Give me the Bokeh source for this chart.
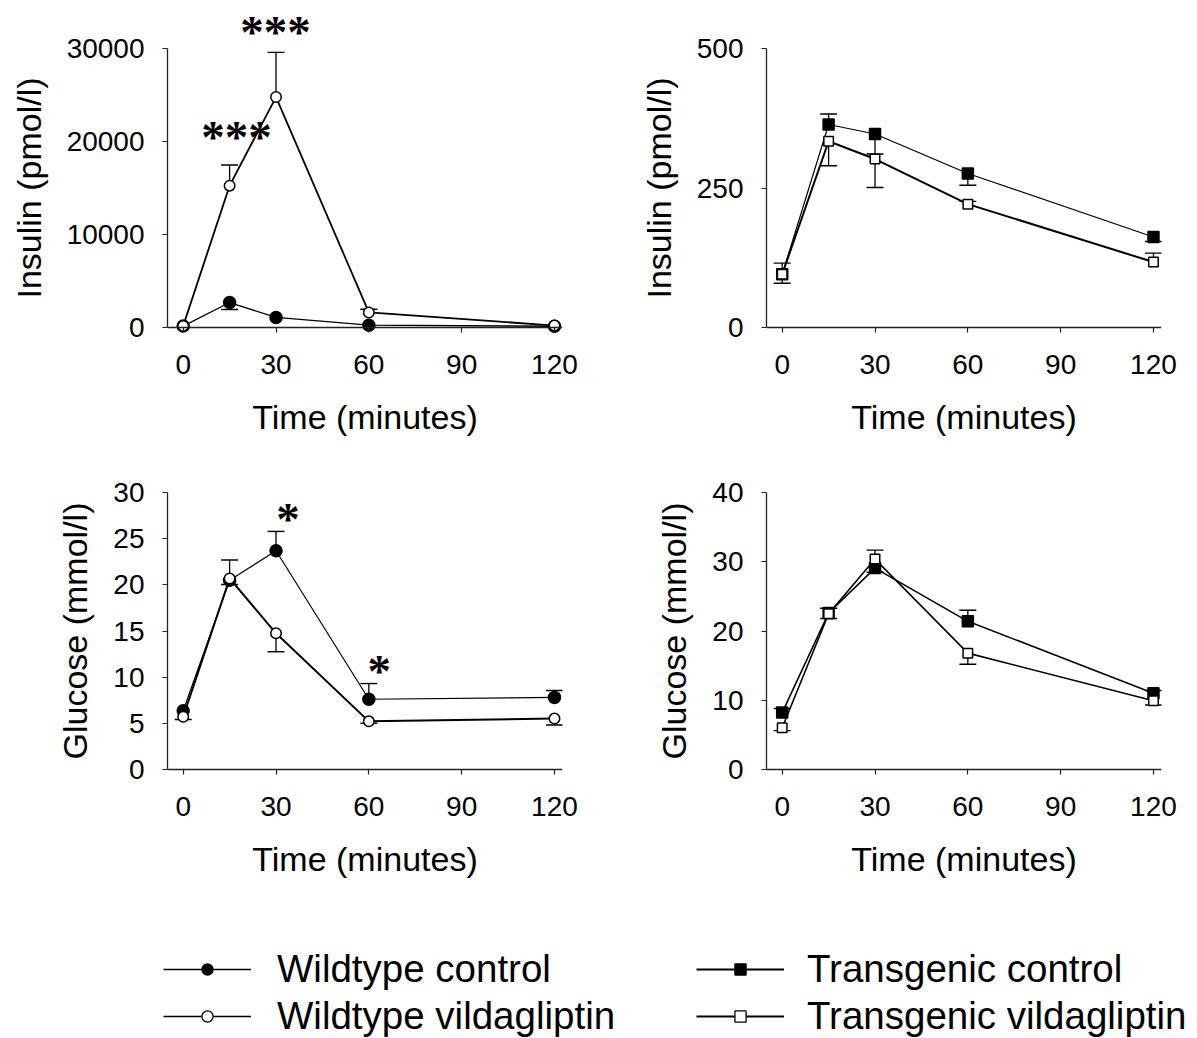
from bokeh.plotting import figure
from bokeh.models import (Range1d, FixedTicker, Legend, LegendItem, LinearAxis,
                          LabelSet, ColumnDataSource)
from bokeh.layouts import column, row
from bokeh.embed import file_html
from bokeh.resources import INLINE

# ---------------- data ----------------
time_min = [0, 15, 30, 60, 120]
time_ticks = [0, 30, 60, 90, 120]

# Insulin, wildtype (pmol/l)
wt_ctrl_ins = [120, 2660, 1050, 220, 100]
wt_ctrl_ins_up = [0, 0, 0, 0, 0]
wt_ctrl_ins_dn = [0, 760, 0, 0, 0]
wt_vild_ins = [140, 15250, 24800, 1590, 180]
wt_vild_ins_up = [0, 2230, 4810, 340, 0]
wt_vild_ins_dn = [0, 0, 0, 0, 0]

# Insulin, transgenic (pmol/l)
tg_ctrl_ins = [95, 364, 347, 276, 162]
tg_ctrl_ins_up = [0, 19, 0, 0, 0]
tg_ctrl_ins_dn = [16, 0, 36, 21, 8]
tg_vild_ins = [95, 334, 302, 221, 117]
tg_vild_ins_up = [20, 0, 0, 5, 16]
tg_vild_ins_dn = [0, 44, 51, 0, 0]

# Glucose, wildtype (mmol/l)
wt_ctrl_glu = [6.35, 20.5, 23.7, 7.6, 7.8]
wt_ctrl_glu_up = [0, 0, 2.1, 1.7, 0.75]
wt_ctrl_glu_dn = [0, 0.45, 0, 0, 0]
wt_vild_glu = [5.7, 20.7, 14.75, 5.2, 5.5]
wt_vild_glu_up = [0, 2.0, 0, 0, 0]
wt_vild_glu_dn = [0.3, 0, 2.0, 0.2, 0.7]

# Glucose, transgenic (mmol/l)
tg_ctrl_glu = [8.2, 22.6, 29.1, 21.4, 11.0]
tg_ctrl_glu_up = [0.6, 0.7, 0, 1.6, 0.4]
tg_ctrl_glu_dn = [0, 0, 0.6, 0, 0]
tg_vild_glu = [6.0, 22.5, 30.4, 16.8, 9.9]
tg_vild_glu_up = [0, 0, 1.3, 0, 0]
tg_vild_glu_dn = [0.4, 0.7, 0, 1.6, 0.6]

# significance marks
ins_star_t = [17.2, 29.8]
ins_star_y = [20500, 31760]
ins_star_txt = ["***", "***"]
glu_star_t = [33.9, 63.4]
glu_star_y = [27.1, 10.7]
glu_star_txt = ["*", "*"]

ins_wt_ticks = [0, 10000, 20000, 30000]
ins_tg_ticks = [0, 250, 500]
glu_wt_ticks = [0, 5, 10, 15, 20, 25, 30]
glu_tg_ticks = [0, 10, 20, 30, 40]

legend_labels_wt = ["Wildtype control", "Wildtype vildagliptin"]
legend_labels_tg = ["Transgenic control", "Transgenic vildagliptin"]

# ---------------- style / layout ----------------
FONT = "Liberation Sans"
FRAME_W = 395
PX_PER_MIN = 3.094
X0_OFFSET = 15.7      # px from frame left to t=0
LABEL_DROP = 27       # px from the zero line to the top of the x tick labels


def make_panel(top_val, yticks, ylabel, left_b, right_b, top_b, bottom_b,
               frame_h, span_px):
    upp = top_val / span_px
    pad = (frame_h - span_px) / 2.0
    x_start = -X0_OFFSET / PX_PER_MIN
    x_end = x_start + FRAME_W / PX_PER_MIN
    p = figure(frame_width=FRAME_W, frame_height=frame_h,
               min_border_left=left_b, min_border_right=right_b,
               min_border_top=top_b, min_border_bottom=bottom_b,
               x_range=Range1d(x_start, x_end),
               y_range=Range1d(-pad * upp, top_val + pad * upp),
               output_backend="svg", toolbar_location=None)
    p.grid.visible = False
    p.outline_line_color = None
    p.background_fill_color = "white"
    p.border_fill_color = "white"

    # axis line + ticks at y = 0
    zero_axis = LinearAxis(fixed_location=0, ticker=FixedTicker(ticks=time_ticks),
                           major_label_overrides={t: "" for t in time_ticks})
    p.add_layout(zero_axis, "below")

    # tick labels and title of the x axis (below the frame)
    xa = p.xaxis[0]
    xa.ticker = FixedTicker(ticks=time_ticks)
    xa.axis_line_color = None
    xa.major_tick_line_color = None
    xa.major_tick_out = 0
    xa.major_tick_in = 0
    xa.major_label_standoff = int(round(LABEL_DROP - pad))
    xa.axis_label = "Time (minutes)"
    xa.axis_label_standoff = 21

    ya = p.yaxis[0]
    ya.ticker = FixedTicker(ticks=yticks)
    ya.bounds = (0, top_val)
    ya.axis_label = ylabel
    ya.major_label_standoff = 18
    ya.axis_label_standoff = 16

    for ax in (zero_axis, ya):
        ax.major_tick_out = 5
        ax.major_tick_in = 0
        ax.axis_line_color = "#222222"
        ax.axis_line_width = 1.3
        ax.major_tick_line_color = "#222222"
        ax.major_tick_line_width = 1.2
    for ax in (zero_axis, xa, ya):
        ax.minor_tick_out = 0
        ax.minor_tick_in = 0
        ax.major_label_text_font = FONT
        ax.major_label_text_font_size = "28px"
        ax.major_label_text_color = "black"
        ax.axis_label_text_font = FONT
        ax.axis_label_text_font_size = "34px"
        ax.axis_label_text_font_style = "normal"
        ax.axis_label_text_color = "black"
    return p


def add_errors(p, t, vals, up, dn):
    xs, y0s, y1s = [], [], []
    for ti, v, u, d in zip(t, vals, up, dn):
        if u > 0:
            xs.append(ti); y0s.append(v); y1s.append(v + u)
        if d > 0:
            xs.append(ti); y0s.append(v); y1s.append(v - d)
    p.segment(x0=xs, y0=y0s, x1=xs, y1=y1s, line_color="black", line_width=1.3)
    p.scatter(x=xs, y=y1s, marker="dash", size=17, line_color="black", line_width=1.4)


def add_series(p, t, vals, marker, fill, size, lw):
    p.line(t, vals, line_color="black", line_width=lw)
    p.scatter(t, vals, marker=marker, size=size, fill_color=fill,
              line_color="black", line_width=1.5)


def add_stars(p, xs, ys, txt):
    src = ColumnDataSource(data=dict(x=xs, y=ys, text=txt))
    p.add_layout(LabelSet(x="x", y="y", text="text", source=src,
                          text_font=FONT, text_font_size="47px",
                          text_font_style="bold", text_align="center",
                          text_baseline="middle", text_color="black"))


# top row (frame from y = 12 to 363 on the page; 30000 at 48.3, 0 at 326.7)
p1 = make_panel(30000, ins_wt_ticks, "Insulin (pmol/l)", 167, 38, 12, 92, 351, 278.4)
add_errors(p1, time_min, wt_ctrl_ins, wt_ctrl_ins_up, wt_ctrl_ins_dn)
add_series(p1, time_min, wt_ctrl_ins, "circle", "black", 12, 1.3)
add_errors(p1, time_min, wt_vild_ins, wt_vild_ins_up, wt_vild_ins_dn)
add_series(p1, time_min, wt_vild_ins, "circle", "white", 10.5, 1.8)
add_stars(p1, ins_star_t, ins_star_y, ins_star_txt)

p2 = make_panel(500, ins_tg_ticks, "Insulin (pmol/l)", 166, 36, 12, 92, 351, 278.4)
add_errors(p2, time_min, tg_ctrl_ins, tg_ctrl_ins_up, tg_ctrl_ins_dn)
add_series(p2, time_min, tg_ctrl_ins, "square", "black", 11, 1.2)
add_errors(p2, time_min, tg_vild_ins, tg_vild_ins_up, tg_vild_ins_dn)
add_series(p2, time_min, tg_vild_ins, "square", "white", 9.5, 2.0)

# bottom row (frame from y = 485 to 776 on the page)
p3 = make_panel(30, glu_wt_ticks, "Glucose (mmol/l)", 167, 38, 30, 124, 291, 276.6)
add_errors(p3, time_min, wt_ctrl_glu, wt_ctrl_glu_up, wt_ctrl_glu_dn)
add_series(p3, time_min, wt_ctrl_glu, "circle", "black", 12, 1.2)
add_errors(p3, time_min, wt_vild_glu, wt_vild_glu_up, wt_vild_glu_dn)
add_series(p3, time_min, wt_vild_glu, "circle", "white", 10.5, 2.0)
add_stars(p3, glu_star_t, glu_star_y, glu_star_txt)

p4 = make_panel(40, glu_tg_ticks, "Glucose (mmol/l)", 166, 36, 30, 124, 291, 276.6)
add_errors(p4, time_min, tg_ctrl_glu, tg_ctrl_glu_up, tg_ctrl_glu_dn)
add_series(p4, time_min, tg_ctrl_glu, "square", "black", 11, 1.6)
add_errors(p4, time_min, tg_vild_glu, tg_vild_glu_up, tg_vild_glu_dn)
add_series(p4, time_min, tg_vild_glu, "square", "white", 9.5, 1.6)

# legend strip
pl = figure(width=1197, height=138, x_range=Range1d(0, 1), y_range=Range1d(0, 1),
            x_axis_location=None, y_axis_location=None,
            output_backend="svg", toolbar_location=None, min_border=0)
pl.grid.visible = False
pl.outline_line_color = None

nan = [float("nan")]
r_wc_l = pl.line(x=nan, y=nan, line_color="black", line_width=1.3)
r_wc_m = pl.scatter(x=nan, y=nan, marker="circle", fill_color="black", line_color="black", line_width=1.2)
r_wv_l = pl.line(x=nan, y=nan, line_color="black", line_width=1.3)
r_wv_m = pl.scatter(x=nan, y=nan, marker="circle", fill_color="white", line_color="black", line_width=1.3)
r_tc_l = pl.line(x=nan, y=nan, line_color="black", line_width=1.9)
r_tc_m = pl.scatter(x=nan, y=nan, marker="square", fill_color="black", line_color="black", line_width=1.2)
r_tv_l = pl.line(x=nan, y=nan, line_color="black", line_width=1.9)
r_tv_m = pl.scatter(x=nan, y=nan, marker="square", fill_color="white", line_color="black", line_width=1.3)


def make_legend(items, loc, standoff):
    return Legend(items=items, location=loc, orientation="vertical",
                  glyph_width=88, glyph_height=28, label_height=28, spacing=3,
                  label_standoff=standoff, padding=0, margin=0,
                  border_line_color=None, background_fill_alpha=0,
                  label_text_font=FONT, label_text_font_size="38.5px",
                  label_text_color="black")


leg1 = make_legend([LegendItem(label=legend_labels_wt[0], renderers=[r_wc_l, r_wc_m]),
                    LegendItem(label=legend_labels_wt[1], renderers=[r_wv_l, r_wv_m])],
                   (163, 0), 26)
leg2 = make_legend([LegendItem(label=legend_labels_tg[0], renderers=[r_tc_l, r_tc_m]),
                    LegendItem(label=legend_labels_tg[1], renderers=[r_tv_l, r_tv_m])],
                   (696, 0), 23)
pl.add_layout(leg1)
pl.add_layout(leg2)

layout = column(row(p1, p2), row(p3, p4), pl)
open("out.html", "w").write(file_html(layout, INLINE))
